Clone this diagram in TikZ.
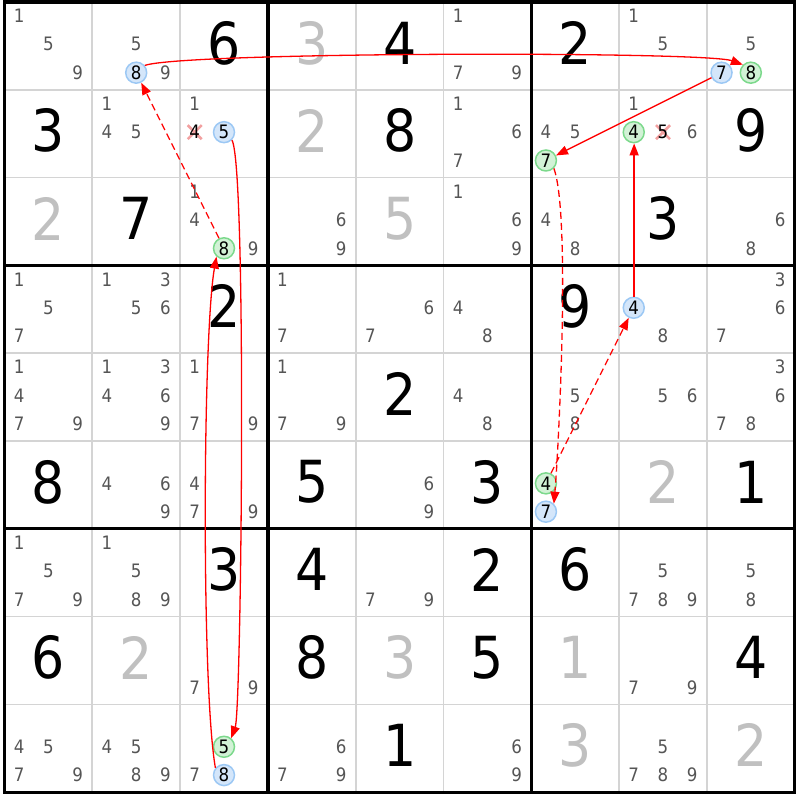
\documentclass[tikz,border=0pt]{standalone}
\usepackage{fontspec}
\setmainfont{DejaVu Sans Condensed}
\usetikzlibrary{arrows.meta}

\definecolor{bigGray}{HTML}{C0C0C0}
\definecolor{candGray}{HTML}{555555}
\definecolor{gridGray}{HTML}{D4D4D4}
\definecolor{markBlue}{HTML}{D4E6FA}
\definecolor{lineBlue}{HTML}{9CC8F4}
\definecolor{markGreen}{HTML}{D2F2D6}
\definecolor{lineGreen}{HTML}{7CD98C}
\definecolor{strikeRed}{HTML}{F2A0A0}
\definecolor{linkRed}{HTML}{FF0000}

\tikzset{
  given/.style={font=\fontsize{58}{58}\selectfont, inner sep=0pt, yshift=3pt},
  solved/.style={given, text=bigGray},
  cand/.style={font=\fontsize{18.5}{18.5}\selectfont, text=candGray, inner sep=0pt},
  linkblue/.style={circle, draw=lineBlue, fill=markBlue, line width=1.5pt,
    minimum size=21pt, inner sep=0pt, font=\fontsize{18.5}{18.5}\selectfont},
  linkgreen/.style={linkblue, draw=lineGreen, fill=markGreen},
  strike/.style={strikeRed, line width=2.6pt},
  link/.style={draw=linkRed, line width=1.3pt,
    -{Triangle[length=12pt,width=9pt,color=linkRed,fill=linkRed]}},
  weak/.style={link, dash pattern=on 7pt off 4pt}
}

\begin{document}
\begin{tikzpicture}[x=87.8pt, y=87.8pt]

\useasboundingbox (-4.5pt,2pt) rectangle (795.5pt,-798pt);

% Thin lines between the cells
\foreach \i in {1,2,4,5,7,8} {
  \draw[gridGray, line width=1.7pt] (\i,0) -- (\i,-9);
  \draw[gridGray, line width=1.7pt] (0,-\i) -- (9,-\i);
}

% Box lines and border
\foreach \i in {3,6} {
  \draw[line width=3.2pt] (\i,0) -- (\i,-9);
  \draw[line width=3.2pt] (0,-\i) -- (9,-\i);
}
\draw[line width=3.2pt] (0,0) rectangle (9,-9);

% Givens (black) and solved cells (gray), as row/column/value
\foreach \r/\c/\v in {1/3/6, 1/5/4, 1/7/2, 2/1/3, 2/5/8, 2/9/9, 3/2/7, 3/8/3,
  4/3/2, 4/7/9, 5/5/2, 6/1/8, 6/4/5, 6/6/3, 6/9/1, 7/3/3, 7/4/4, 7/6/2,
  7/7/6, 8/1/6, 8/4/8, 8/6/5, 8/9/4, 9/5/1} {
  \node[given] (g\r\c) at (\c-0.5,-\r+0.5) {\v};
}
\foreach \r/\c/\v in {1/4/3, 2/4/2, 3/1/2, 3/5/5, 6/8/2, 8/2/2, 8/5/3,
  8/7/1, 9/7/3, 9/9/2} {
  \node[solved] (g\r\c) at (\c-0.5,-\r+0.5) {\v};
}

% Pencil marks
\foreach \r/\c/\ds in {1/1/{1,5,9}, 1/2/{5,9}, 1/6/{1,7,9}, 1/8/{1,5}, 1/9/{5},
  2/2/{1,4,5}, 2/3/{1}, 2/6/{1,6,7}, 2/7/{4,5}, 2/8/{1,6},
  3/3/{1,4,9}, 3/4/{6,9}, 3/6/{1,6,9}, 3/7/{4,8}, 3/9/{6,8},
  4/1/{1,5,7}, 4/2/{1,3,5,6}, 4/4/{1,7}, 4/5/{6,7}, 4/6/{4,8}, 4/8/{8}, 4/9/{3,6,7},
  5/1/{1,4,7,9}, 5/2/{1,3,4,6,9}, 5/3/{1,7,9}, 5/4/{1,7,9}, 5/6/{4,8},
  5/7/{5,8}, 5/8/{5,6}, 5/9/{3,6,7,8},
  6/2/{4,6,9}, 6/3/{4,7,9}, 6/5/{6,9},
  7/1/{1,5,7,9}, 7/2/{1,5,8,9}, 7/5/{7,9}, 7/8/{5,7,8,9}, 7/9/{5,8},
  8/3/{7,9}, 8/8/{7,9},
  9/1/{4,5,7,9}, 9/2/{4,5,8,9}, 9/3/{7}, 9/4/{6,7,9}, 9/6/{6,9}, 9/8/{5,7,8,9}} {
  \foreach \d in \ds {
    \pgfmathsetmacro\cx{\c-1+(2*mod(\d-1,3)+1)/6}
    \pgfmathsetmacro\cy{-(\r-1)-0.16-0.3225*floor((\d-1)/3)}
    \node[cand] (n\r\c\d) at (\cx,\cy) {\d};
  }
}

% Eliminated candidates
\foreach \r/\c/\d in {2/3/4, 2/8/5} {
  \pgfmathsetmacro\cx{\c-1+(2*mod(\d-1,3)+1)/6}
  \pgfmathsetmacro\cy{-(\r-1)-0.16-0.3225*floor((\d-1)/3)}
  \draw[strike] (\cx,\cy) ++(-7pt,-7pt) -- ++(14pt,14pt) ++(-14pt,0) -- ++(14pt,-14pt);
  \node[cand, text=black] (n\r\c\d) at (\cx,\cy) {\d};
}

% Candidates in the chain
\foreach \r/\c/\d/\s in {1/2/8/linkblue, 1/9/7/linkblue, 1/9/8/linkgreen,
  2/3/5/linkblue, 2/7/7/linkgreen, 2/8/4/linkgreen, 3/3/8/linkgreen,
  4/8/4/linkblue, 6/7/4/linkgreen, 6/7/7/linkblue, 9/3/5/linkgreen, 9/3/8/linkblue} {
  \pgfmathsetmacro\cx{\c-1+(2*mod(\d-1,3)+1)/6}
  \pgfmathsetmacro\cy{-(\r-1)-0.16-0.3225*floor((\d-1)/3)}
  \node[\s] (n\r\c\d) at (\cx,\cy) {\d};
}

% Strong links solid, weak links dashed
\draw[link] (n128.40) to[out=20, in=160, distance=40pt] (n198.135);
\draw[weak] (n338) -- (n128);
\draw[link] (n235.-45) to[out=-60, in=70, distance=30pt] (n935.50);
\draw[link] (n938.140) to[out=100, in=-100, distance=80pt] (n338.228);
\draw[link] (n197) -- (n277);
\draw[weak] (n277.-45) to[out=-70, in=85, distance=50pt] (n677.45);
\draw[weak] (n674) -- (n484);
\draw[link, line width=1.5pt] ([xshift=0.4pt]n484.north) -- ([xshift=0.4pt]n284.south);

\end{tikzpicture}
\end{document}
